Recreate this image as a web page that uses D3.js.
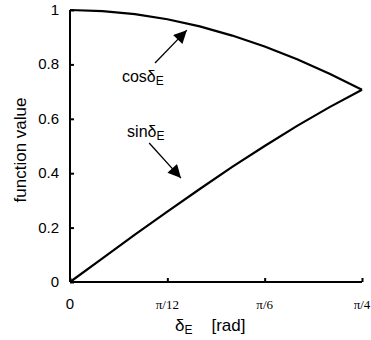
<!DOCTYPE html>
<html><head><meta charset="utf-8">
<script src="https://cdn.jsdelivr.net/npm/d3@7"></script>
<style>body{margin:0;background:#fff}svg{display:block}</style>
</head><body>
<svg id="c" width="371" height="340"></svg>
<script>
// angle in degrees (0 .. 45 = π/4)
const angles = [0, 5, 10, 15, 20, 25, 30, 35, 40, 45];
const cosValues = [1.000, 0.996, 0.985, 0.966, 0.940, 0.906, 0.866, 0.819, 0.766, 0.707];
const sinValues = [0.000, 0.087, 0.174, 0.259, 0.342, 0.423, 0.500, 0.574, 0.643, 0.707];
const xTicks = [0, 15, 30, 45];
const xTickLabels = ["0", "π/12", "π/6", "π/4"];
const yTicks = [0, 0.2, 0.4, 0.6, 0.8, 1];
const yTickLabels = ["0", "0.2", "0.4", "0.6", "0.8", "1"];

const svg = d3.select("#c");
const x = d3.scaleLinear().domain([0, 45]).range([70, 362]);
const y = d3.scaleLinear().domain([0, 1]).range([282, 10]);
const sans = "Liberation Sans, Arial, sans-serif";
const serif = "Liberation Serif, Times New Roman, serif";

// axes
const yAxis = svg.append("g").attr("transform", `translate(${x(0)},0)`)
  .call(d3.axisRight(y).tickValues(yTicks).tickSize(4).tickFormat(""));
const xAxis = svg.append("g").attr("transform", `translate(0,${y(0)})`)
  .call(d3.axisTop(x).tickValues(xTicks).tickSize(4).tickFormat(""));
[yAxis, xAxis].forEach(g => {
  g.select(".domain").attr("stroke", "#000").attr("stroke-width", 2);
  g.selectAll(".tick line").attr("stroke", "#000").attr("stroke-width", 2);
});
yAxis.select(".domain").attr("d", `M0,${y(0)}V${y(1)}`);
xAxis.select(".domain").attr("d", `M${x(0)},0H${x(45)}`);

// y tick labels
svg.append("g").selectAll("text").data(yTicks).join("text")
  .attr("x", x(0) - 11).attr("y", d => y(d) + 5)
  .attr("text-anchor", "end").attr("font-family", sans).attr("font-size", 15)
  .text((d, i) => yTickLabels[i]);
// x tick labels
svg.append("g").selectAll("text").data(xTicks).join("text")
  .attr("x", d => x(d)).attr("y", y(0) + 27)
  .attr("text-anchor", "middle")
  .attr("font-family", (d, i) => i === 0 ? sans : serif)
  .attr("font-size", (d, i) => i === 0 ? 15 : 13)
  .text((d, i) => xTickLabels[i]);

// axis titles
svg.append("text").attr("transform", `translate(26,${(y(0) + y(1)) / 2 + 4}) rotate(-90)`)
  .attr("text-anchor", "middle").attr("font-family", sans).attr("font-size", 17)
  .text("function value");
const xt = svg.append("text").attr("x", 175).attr("y", 331)
  .attr("font-family", sans).attr("font-size", 17);
xt.append("tspan").text("δ");
xt.append("tspan").attr("font-size", 12).attr("dy", 3).text("E");
xt.append("tspan").attr("dy", -3).attr("dx", 19).text("[rad]");

// curves
const line = d3.line().x((d, i) => x(angles[i])).y(d => y(d));
[cosValues, sinValues].forEach(vals => {
  svg.append("path").attr("d", line(vals)).attr("fill", "none")
    .attr("stroke", "#000").attr("stroke-width", 2.2).attr("stroke-linejoin", "miter");
});

// annotations with arrows
svg.append("defs").append("marker").attr("id", "ah")
  .attr("viewBox", "0 0 10 10").attr("refX", 10).attr("refY", 5)
  .attr("markerWidth", 16).attr("markerHeight", 13).attr("markerUnits", "userSpaceOnUse")
  .attr("orient", "auto")
  .append("path").attr("d", "M0,0L10,5L0,10Z").attr("fill", "#000");

const notes = [
  {name: "cos", lx: 8.0, ly: 0.735, ax0: 13.1, ay0: 0.805, ax1: 18.0, ay1: 0.926},
  {name: "sin", lx: 8.8, ly: 0.533, ax0: 12.2, ay0: 0.511, ax1: 17.1, ay1: 0.382}
];
notes.forEach(n => {
  svg.append("line").attr("x1", x(n.ax0)).attr("y1", y(n.ay0))
    .attr("x2", x(n.ax1)).attr("y2", y(n.ay1))
    .attr("stroke", "#000").attr("stroke-width", 1.3).attr("marker-end", "url(#ah)");
  const t = svg.append("text").attr("x", x(n.lx)).attr("y", y(n.ly))
    .attr("font-family", sans).attr("font-size", 16);
  t.append("tspan").text(n.name + "δ");
  t.append("tspan").attr("font-size", 12).attr("dy", 3).text("E");
});
</script>
</body></html>
